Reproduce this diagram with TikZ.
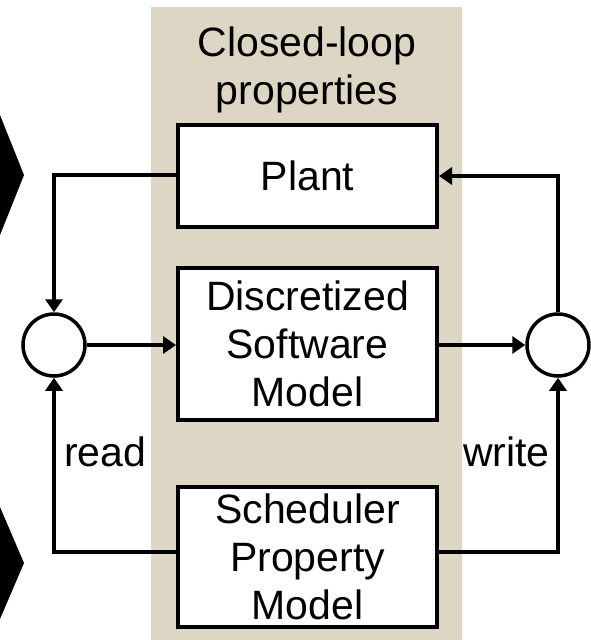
\documentclass[tikz,border=0pt]{standalone}
\usepackage{fontspec}
\setmainfont{Liberation Sans}
\usetikzlibrary{arrows.meta}
\definecolor{band}{RGB}{221,214,196}
\tikzset{
  blk/.style={draw=black, line width=4pt, fill=white, minimum width=259pt, inner sep=0pt, align=center, font=\fontsize{41}{48}\selectfont},
  junc/.style={draw=black, line width=3.5pt, fill=white, circle, minimum size=62pt, inner sep=0pt},
  conn/.style={line width=4pt, -{Triangle[length=13pt,width=17pt]}},
  lbl/.style={font=\fontsize{41}{48}\selectfont, inner sep=0pt}
}
\begin{document}
\begin{tikzpicture}[x=1pt,y=-1pt]
\useasboundingbox (0,0) rectangle (591,640);
\fill[band] (151,7) rectangle (462,640);
\fill[black] (0,115) -- (24,175) -- (0,235) -- cycle;
\fill[black] (0,507) -- (24,563) -- (0,619) -- cycle;
\node[lbl, align=center] (title) at (307,70) {Closed-loop\\properties};
\node[blk, minimum height=102pt] (plant) at (307.5,176) {Plant};
\node[blk, minimum height=152pt] (soft) at (307.5,344) {Discretized\\Software\\Model};
\node[blk, minimum height=140pt] (sched) at (307.5,557) {Scheduler\\Property\\Model};
\node[junc] (cl) at (54,345) {};
\node[junc] (cr) at (558,345) {};
\node[lbl, anchor=west] (read) at (64,452) {read};
\node[lbl, anchor=west] (write) at (463,452) {write};
\coordinate (pl) at (54,175);
\coordinate (pr) at (558,176);
\coordinate (sl) at (54,552);
\coordinate (sr) at (558,552);
\draw[conn] (plant.west |- pl) -- (pl) -- (cl.north);
\draw[conn] (sched.west |- sl) -- (sl) -- (cl.south);
\draw[conn] (cl.east) -- (soft.west |- cl.east);
\draw[conn] (soft.east |- cr.west) -- (cr.west);
\draw[conn] (cr.north) -- (pr) -- (plant.east |- pr);
\draw[conn] (sched.east |- sr) -- (sr) -- (cr.south);
\end{tikzpicture}
\end{document}
